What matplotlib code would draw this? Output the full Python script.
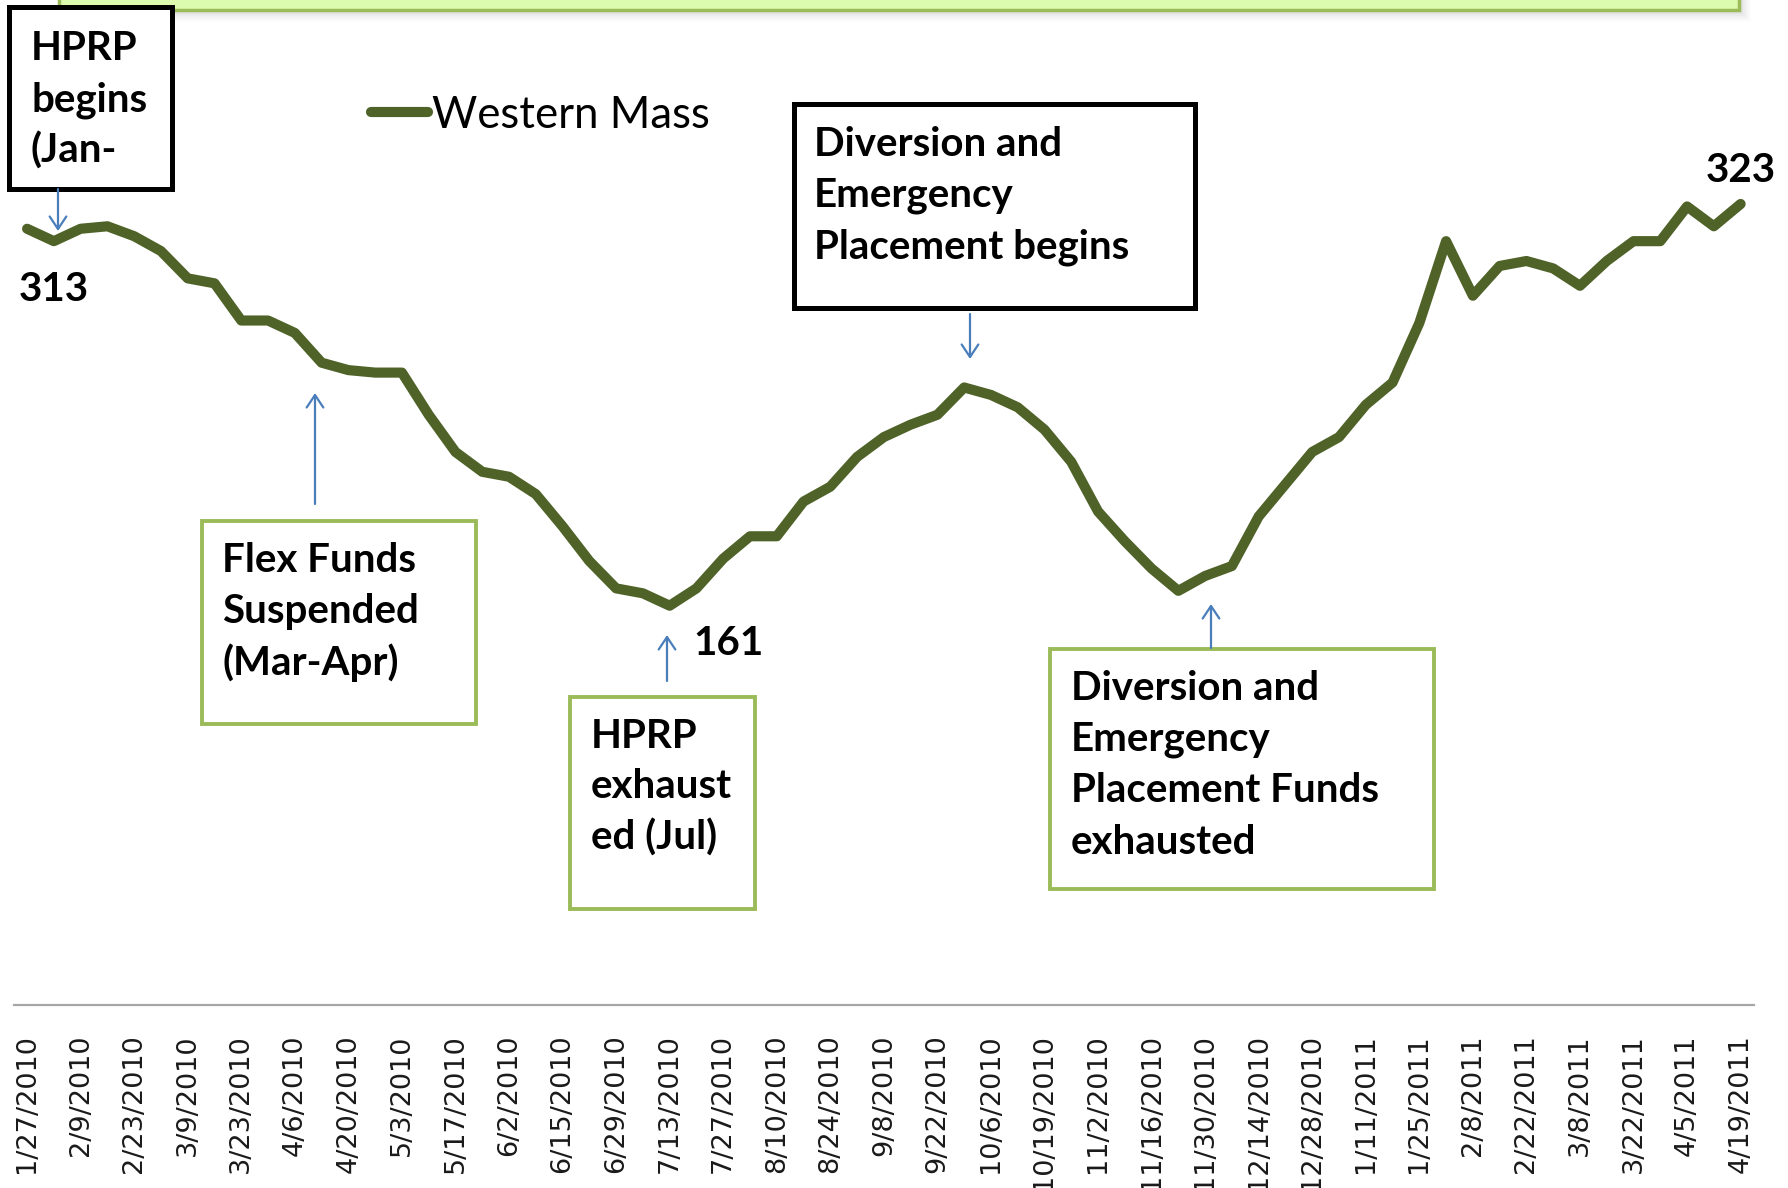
import matplotlib
matplotlib.use("Agg")
import matplotlib.pyplot as plt
from matplotlib.patches import Rectangle
from matplotlib.patches import ArrowStyle

# ---------------- data ----------------
tick_labels = ["1/27/2010", "2/9/2010", "2/23/2010", "3/9/2010", "3/23/2010", "4/6/2010",
               "4/20/2010", "5/3/2010", "5/17/2010", "6/2/2010", "6/15/2010", "6/29/2010",
               "7/13/2010", "7/27/2010", "8/10/2010", "8/24/2010", "9/8/2010", "9/22/2010",
               "10/6/2010", "10/19/2010", "11/2/2010", "11/16/2010", "11/30/2010",
               "12/14/2010", "12/28/2010", "1/11/2011", "1/25/2011", "2/8/2011", "2/22/2011",
               "3/8/2011", "3/22/2011", "4/5/2011", "4/19/2011"]

western_mass = [313, 308, 313, 314, 310, 304, 293, 291, 276, 276,
                271, 259, 256, 255, 255, 238, 223, 215, 213, 206,
                193, 179, 168, 166, 161, 168, 180, 189, 189, 203,
                209, 221, 229, 234, 238, 249, 246, 241, 232, 219,
                199, 187, 176, 167, 173, 177, 197, 210, 223, 229,
                242, 251, 275, 308, 286, 298, 300, 297, 290, 300,
                308, 308, 322, 314, 323]

series_name = "Western Mass"
labelled_points = [0, 24, 64]

annotations = [
    ("HPRP\nbegins\n(Jan-", "black"),
    ("Flex Funds\nSuspended\n(Mar-Apr)", "green"),
    ("HPRP\nexhaust\ned (Jul)", "green"),
    ("Diversion and\nEmergency\nPlacement begins", "black"),
    ("Diversion and\nEmergency\nPlacement Funds\nexhausted", "green"),
]

# ---------------- style ----------------
W, H = 1788, 1188
LINE_COLOR = "#4F6228"
ARROW_COLOR = "#4A7EBB"
GREEN_EDGE = "#9BBB59"
BOLD_FONT = ["Lato", "DejaVu Sans"]
BOX_FS = 29

fig = plt.figure(figsize=(W / 100, H / 100), dpi=100)
fig.patch.set_facecolor("white")

# plot area (pixel geometry -> figure fractions)
left_px, right_px, bottom_px, top_px = 13.7, 1754, 1005, 13
ax = fig.add_axes([left_px / W, 1 - bottom_px / H, (right_px - left_px) / W,
                   (bottom_px - top_px) / H])
x = list(range(len(western_mass)))
ax.plot(x, western_mass, color=LINE_COLOR, lw=7.3, solid_joinstyle="round",
        solid_capstyle="round", label=series_name, zorder=3)
ax.set_xlim(-0.5, len(western_mass) - 0.5)
ax.set_ylim(0, 400)
for s in ["left", "right", "top"]:
    ax.spines[s].set_visible(False)
ax.spines["bottom"].set_color("#A6A6A6")
ax.spines["bottom"].set_linewidth(1.6)
ax.set_yticks([])
ax.set_xticks(x[::2])
ax.set_xticklabels(tick_labels, rotation=90, fontsize=19.5,
                   family=["DejaVu Sans"], color="#1a1a1a")
ax.tick_params(axis="x", length=0, pad=21)
ax.patch.set_alpha(0)

# data labels
label_offsets = {0: (19, -44), 24: (42, -27), 64: (0, 24)}
for i in labelled_points:
    dx, dy = label_offsets[i]
    ax.annotate(str(western_mass[i]), xy=(i, western_mass[i]), xytext=(dx, dy),
                textcoords="offset points", ha="center", va="center",
                fontsize=BOX_FS, fontweight="bold", family=BOLD_FONT, color="black",
                zorder=5)

# legend
leg = ax.legend(loc="center left", bbox_to_anchor=(371 / W, 1 - 115 / H),
                bbox_transform=fig.transFigure, frameon=False, borderpad=0,
                borderaxespad=0, handlelength=1.3, handletextpad=0.1,
                prop={"family": ["Lato"], "size": 31.5})

# ---------------- overlay in pixel coordinates ----------------
ov = fig.add_axes([0, 0, 1, 1], zorder=10)
ov.set_xlim(0, W)
ov.set_ylim(H, 0)
ov.axis("off")
ov.patch.set_alpha(0)

# top banner (mostly cut off) with soft shadow
for k, a in enumerate([0.10, 0.08, 0.06, 0.04, 0.03, 0.02]):
    ov.add_patch(Rectangle((59 + 2, -40), 1680 + 2 * k, 50 + 2 + 2 * k,
                           facecolor="#7f7f7f", edgecolor="none", alpha=a, zorder=1))
ov.add_patch(Rectangle((59, -40), 1680, 50, facecolor="#DDFBAE",
                       edgecolor=GREEN_EDGE, lw=2.5, zorder=2))

box_geom = [  # x0, y0, x1, y1, text_x, first_line_y
    (9, 7, 172, 189, 31, 49),
    (202, 521, 476, 724, 222, 561),
    (570, 697, 755, 909, 591, 736),
    (794, 104, 1195, 308, 814, 145),
    (1050, 649, 1434, 889, 1071, 689),
]
line_step = 51
for (txt, kind), (x0, y0, x1, y1, tx, ty) in zip(annotations, box_geom):
    ec = "black" if kind == "black" else GREEN_EDGE
    lw = 3.6 if kind == "black" else 2.8
    ov.add_patch(Rectangle((x0, y0), x1 - x0, y1 - y0, facecolor="white",
                           edgecolor=ec, lw=lw, zorder=3))
    for j, line in enumerate(txt.split("\n")):
        ov.text(tx, ty + j * line_step, line, ha="left", va="center",
                fontsize=BOX_FS, fontweight="bold", family=BOLD_FONT,
                color="black", zorder=4)

arrows = [  # x, y_start, y_end
    (58, 189, 231),
    (315, 504, 393),
    (667, 681, 635),
    (970, 314, 359),
    (1211, 648, 604),
]
astyle = ArrowStyle("->", head_length=0.45, head_width=0.3)
for ax_, ys, ye in arrows:
    ov.annotate("", xy=(ax_, ye), xytext=(ax_, ys),
                arrowprops=dict(arrowstyle=astyle, color=ARROW_COLOR, lw=1.6,
                                shrinkA=0, shrinkB=0, mutation_scale=20),
                zorder=5)

fig.savefig("out.png", dpi=100, facecolor="white")
